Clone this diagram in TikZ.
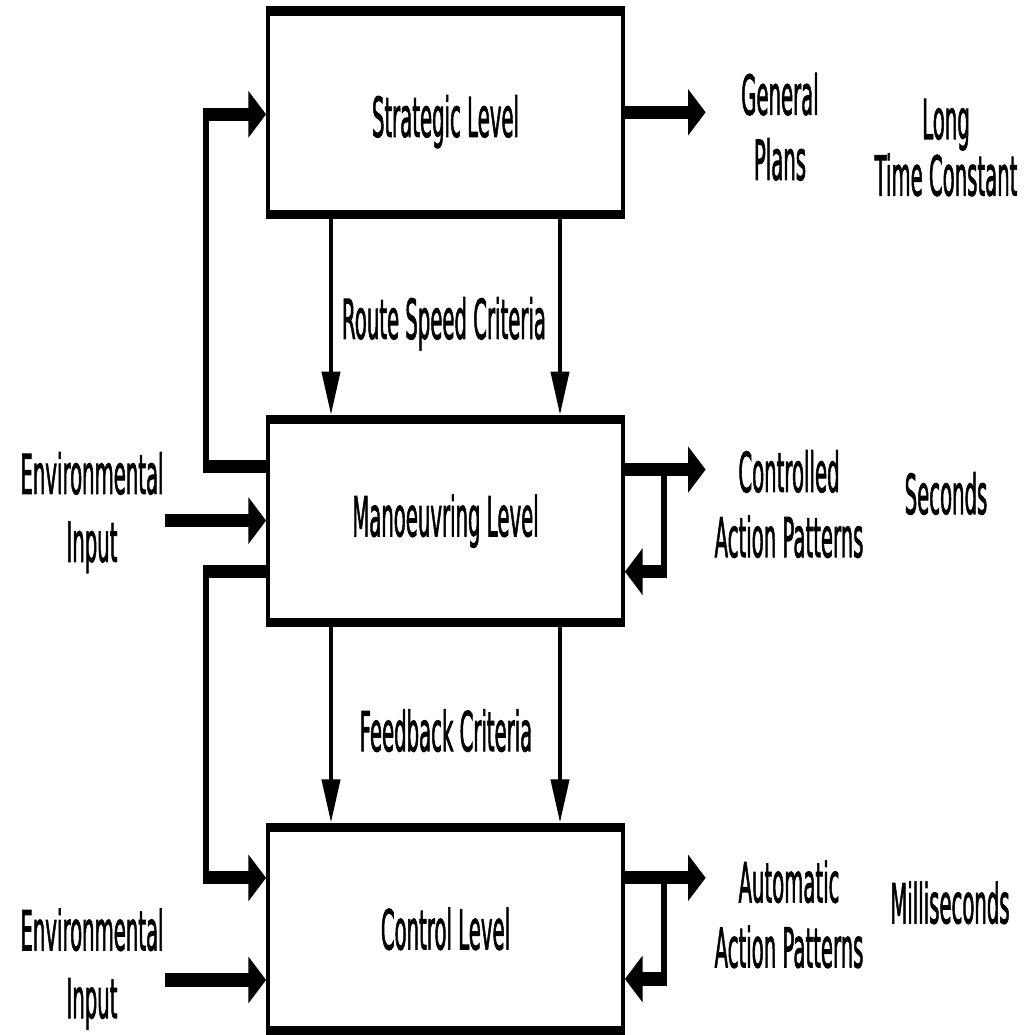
\documentclass[tikz,border=0pt]{standalone}
\usepackage{fontspec}
\setmainfont[FakeStretch=0.86,FakeBold=2]{DejaVu Sans}
\usetikzlibrary{arrows.meta}
\newcommand\lblfont{\fontsize{16.26pt}{19.3pt}\selectfont}
\newcommand\envfont{\fontsize{16.26pt}{20.1pt}\selectfont}
\newcommand\tightfont{\fontsize{16.26pt}{13.8pt}\selectfont}
\begin{document}
\begin{tikzpicture}[x=0.025cm,y=0.025cm]
\useasboundingbox (0,0) rectangle (1035,1035);
\begin{scope}[transform canvas={yscale=2.4}, y=0.01041667cm,
  box/.style={draw, line width=0.1cm, minimum width=8.85cm, minimum height=2.1146cm, inner sep=0pt, font=\lblfont},
  lbl/.style={align=center, inner sep=0pt, anchor=north, font=\lblfont},
  tip/.style={-{Triangle[length=0.45cm,width=0.45cm]}},
  flow/.style={line width=0.1375cm, tip},
  down/.style={line width=0.1cm, tip}]
% boxes
\node[box, text height=0.64cm, text depth=0.14cm] (strat) at (445.5,921.5) {Strategic Level};
\node[box] (man) at (445.5,513.5) {Manoeuvring Level};
\node[box] (ctrl) at (445.5,106) {Control Level};
% labels
\node[lbl] (gen) at (780,962) {General\\Plans};
\node[lbl, font=\tightfont] (long) at (946,936) {Long\\Time Constant};
\node[lbl] (cap) at (789,585) {Controlled\\Action Patterns};
\node[lbl] (sec) at (946,563) {Seconds};
\node[lbl] (aap) at (789,175) {Automatic\\Action Patterns};
\node[lbl] (milli) at (950,154) {Milliseconds};
\node[lbl, font=\envfont] (env1) at (92,583) {Environmental\\Input};
\node[lbl, font=\envfont] (env2) at (92,127) {Environmental\\Input};
\node[lbl] (route) at (444,738) {Route Speed Criteria};
\node[lbl] (feed) at (446,326) {Feedback Criteria};
% helper coordinates
\coordinate (c1) at (331,0);
\coordinate (c2) at (560,0);
\coordinate (L1b) at (206,568);
\coordinate (L1t) at (206,920);
\coordinate (L2t) at (206,463);
\coordinate (L2b) at (206,157);
\coordinate (E1) at (165,514);
\coordinate (E2) at (165,55);
\coordinate (SO) at (706,922);
\coordinate (R1) at (706,565);
\coordinate (R1k) at (664,565);
\coordinate (R1d) at (664,463);
\coordinate (CO) at (706,157);
\coordinate (R2k) at (664,157);
\coordinate (R2d) at (664,56);
% down arrows
\draw[down] (strat.south -| c1) -- (man.north -| c1);
\draw[down] (strat.south -| c2) -- (man.north -| c2);
\draw[down] (man.south -| c1) -- (ctrl.north -| c1);
\draw[down] (man.south -| c2) -- (ctrl.north -| c2);
% left loops
\draw[flow] (L1b -| man.west) -- (L1b) -- (L1t) -- (L1t -| strat.west);
\draw[flow] (L2t -| man.west) -- (L2t) -- (L2b) -- (L2b -| ctrl.west);
% environmental inputs
\draw[flow] (E1) -- (E1 -| man.west);
\draw[flow] (E2) -- (E2 -| ctrl.west);
% outputs
\draw[flow] (SO -| strat.east) -- (SO);
\draw[flow] (R1 -| man.east) -- (R1);
\draw[flow] (R1k) -- (R1d) -- (R1d -| man.east);
\draw[flow] (CO -| ctrl.east) -- (CO);
\draw[flow] (R2k) -- (R2d) -- (R2d -| ctrl.east);
\end{scope}
\end{tikzpicture}
\end{document}
